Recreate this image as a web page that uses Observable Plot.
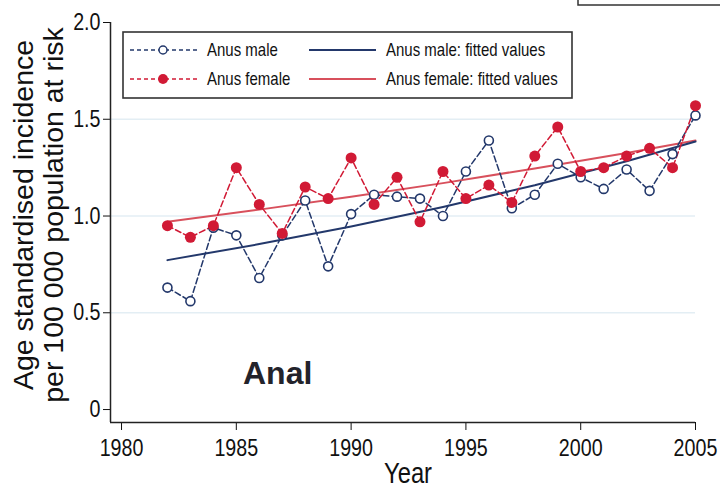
<!DOCTYPE html>
<html>
<head>
<meta charset="utf-8">
<script src="https://cdn.jsdelivr.net/npm/d3@7"></script>
<script src="https://cdn.jsdelivr.net/npm/@observablehq/plot@0.6"></script>
<style>
  html, body { margin: 0; padding: 0; background: #fff; }
  #chart { position: relative; width: 720px; height: 489px; }
</style>
</head>
<body>
<div id="chart"></div>
<script>
// ---- data ----
const years = [1982, 1983, 1984, 1985, 1986, 1987, 1988, 1989, 1990, 1991, 1992, 1993,
               1994, 1995, 1996, 1997, 1998, 1999, 2000, 2001, 2002, 2003, 2004, 2005];
const maleRate   = [0.63, 0.56, 0.94, 0.90, 0.68, 0.90, 1.08, 0.74, 1.01, 1.11, 1.10, 1.09,
                    1.00, 1.23, 1.39, 1.04, 1.11, 1.27, 1.20, 1.14, 1.24, 1.13, 1.32, 1.52];
const femaleRate = [0.95, 0.89, 0.95, 1.25, 1.06, 0.91, 1.15, 1.09, 1.30, 1.06, 1.20, 0.97,
                    1.23, 1.09, 1.16, 1.07, 1.31, 1.46, 1.23, 1.25, 1.31, 1.35, 1.25, 1.57];
const fitYears  = [1982, 1986, 1990, 1994, 1998, 2002, 2005];
const maleFit   = [0.772, 0.855, 0.946, 1.047, 1.159, 1.283, 1.385];
const femaleFit = [0.970, 1.033, 1.099, 1.170, 1.246, 1.326, 1.390];
const xTicks = [1980, 1985, 1990, 1995, 2000, 2005];
const yTicks = [0, 0.5, 1, 1.5, 2];
const gridTicks = [0.5, 1, 1.5];
const seriesNames = ["Anus male", "Anus female", "Anus male: fitted values", "Anus female: fitted values"];
const yTitle = ["Age standardised incidence", "per 100 000 population at risk"];
const xTitle = "Year";
const panelLabel = "Anal";

// ---- tables ----
const obs = years.map((yr, i) => ({year: yr, male: maleRate[i], female: femaleRate[i]}));
const fit = fitYears.map((yr, i) => ({year: yr, male: maleFit[i], female: femaleFit[i]}));

const BLUE = "#23386b";
const RED = "#d11a35";
const RED_FIT = "#d8505c";
const SANS = "'Liberation Sans', Arial, sans-serif";
const SQUEEZE = 0.82;

const xMin = 1979.52, yMin = -0.067;

const chart = Plot.plot({
  width: 720,
  height: 489,
  marginLeft: 110,
  marginRight: 25,
  marginTop: 22,
  marginBottom: 67,
  style: {fontFamily: SANS, fontSize: "24px", color: "#111", background: "#fff"},
  x: {domain: [xMin, 2005]},
  y: {domain: [yMin, 2]},
  marks: [
    Plot.gridY(gridTicks, {stroke: "#e3eef4", strokeOpacity: 1, strokeWidth: 1.5}),
    Plot.axisX(xTicks, {tickSize: 8, tickPadding: 8, tickFormat: d => String(d), label: null, fontSize: 24}),
    Plot.axisY(yTicks, {tickSize: 7, tickPadding: 3, tickFormat: d => d === 0 ? "0" : d.toFixed(1), label: null, fontSize: 24}),
    Plot.ruleX([xMin], {stroke: "#222", strokeWidth: 1.5}),
    Plot.ruleY([yMin], {stroke: "#222", strokeWidth: 1.5}),
    // fitted values
    Plot.line(fit, {x: "year", y: "female", stroke: RED_FIT, strokeWidth: 2}),
    Plot.line(fit, {x: "year", y: "male", stroke: BLUE, strokeWidth: 2}),
    // observed series
    Plot.line(obs, {x: "year", y: "male", stroke: BLUE, strokeWidth: 1.5, strokeDasharray: "6,3"}),
    Plot.line(obs, {x: "year", y: "female", stroke: RED, strokeWidth: 1.5, strokeDasharray: "6,3"}),
    Plot.dot(obs, {x: "year", y: "male", r: 4.5, stroke: BLUE, strokeWidth: 1.6, fill: "white"}),
    Plot.dot(obs, {x: "year", y: "female", r: 5.5, fill: RED, stroke: "none"})
  ]
});

document.getElementById("chart").appendChild(chart);

// squeeze the axis tick labels horizontally (the reference text is condensed)
d3.select(chart).selectAll("g[aria-label='x-axis tick label'] text, g[aria-label='y-axis tick label'] text")
  .each(function () {
    const t = this.getAttribute("transform") || "";
    this.setAttribute("transform", `${t} scale(${SQUEEZE},1)`);
  });

// ---- annotations, titles and legend ----
const svg = d3.select(chart);

// fragment of neighbouring panel's box (top right)
svg.append("rect").attr("x", 578).attr("y", -4).attr("width", 160).attr("height", 9)
  .attr("fill", "none").attr("stroke", "#333").attr("stroke-width", 1.5);

// y-axis title (two lines)
const yT = svg.append("g").attr("font-family", SANS).attr("font-size", 28.5).attr("fill", "#111").attr("text-anchor", "middle");
yTitle.forEach((t, i) => {
  yT.append("text").attr("transform", `translate(${33 + i * 30},215) rotate(-90)`).text(t);
});

// x-axis title
svg.append("text").attr("transform", `translate(408,483) scale(${SQUEEZE},1)`).attr("text-anchor", "middle")
  .attr("font-family", SANS).attr("font-size", 29).attr("fill", "#111").text(xTitle);

// panel label
svg.append("text").attr("x", 243).attr("y", 384).attr("text-anchor", "start").attr("font-family", SANS)
  .attr("font-weight", "bold").attr("font-size", 32).attr("fill", "#23232b").text(panelLabel);

// legend
const lg = svg.append("g");
lg.append("rect").attr("x", 123).attr("y", 32).attr("width", 449).attr("height", 66)
  .attr("fill", "white").attr("stroke", "#333").attr("stroke-width", 1.6);
const items = [
  {name: seriesNames[0], col: 0, row: 0, color: BLUE, dash: "4,3", marker: "open"},
  {name: seriesNames[1], col: 0, row: 1, color: RED, dash: "4,3", marker: "filled"},
  {name: seriesNames[2], col: 1, row: 0, color: BLUE, dash: null, marker: null},
  {name: seriesNames[3], col: 1, row: 1, color: RED_FIT, dash: null, marker: null}
];
items.forEach(it => {
  const x0 = it.col === 0 ? 130 : 309;
  const yc = it.row === 0 ? 50 : 79;
  const ln = lg.append("line").attr("x1", x0).attr("x2", x0 + 67).attr("y1", yc).attr("y2", yc)
    .attr("stroke", it.color).attr("stroke-width", it.dash ? 1.5 : 2);
  if (it.dash) ln.attr("stroke-dasharray", it.dash);
  if (it.marker === "open") {
    lg.append("circle").attr("cx", x0 + 33).attr("cy", yc).attr("r", 4)
      .attr("fill", "white").attr("stroke", it.color).attr("stroke-width", 1.5);
  } else if (it.marker === "filled") {
    lg.append("circle").attr("cx", x0 + 33).attr("cy", yc).attr("r", 5).attr("fill", it.color);
  }
  lg.append("text").attr("transform", `translate(${x0 + 77},${yc + 6}) scale(${SQUEEZE},1)`)
    .attr("text-anchor", "start").attr("font-family", SANS)
    .attr("font-size", 18.3).attr("fill", "#111").text(it.name);
});
</script>
</body>
</html>
